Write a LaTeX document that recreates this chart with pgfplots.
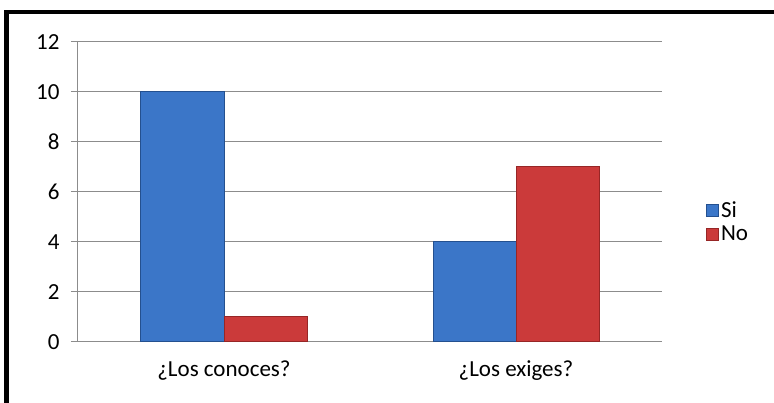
\documentclass[border=0pt]{standalone}
\usepackage{pgfplots}
\pgfplotsset{compat=1.18}
\usepackage{fontspec}
\setmainfont{Carlito}
\definecolor{gridc}{HTML}{8C8C8C}
\definecolor{bluedk}{HTML}{24508F}
\definecolor{bluemd}{HTML}{3B76C8}
\definecolor{reddk}{HTML}{962626}
\definecolor{redmd}{HTML}{CB3A3A}
\begin{document}
\begin{tikzpicture}[x=1pt,y=1pt]
\useasboundingbox (-78,-61) rectangle (696,342);
\fill[white] (-78,-61) rectangle (696,342);
\begin{axis}[
  at={(0,0)}, anchor=south west,
  scale only axis,
  width=584pt, height=300pt,
  xmin=-0.5, xmax=1.5,
  ymin=0, ymax=12,
  ytick={0,2,...,12},
  /pgf/number format/assume math mode=true,
  xtick={0,1},
  xticklabels={¿Los conoces?, ¿Los exiges?},
  extra x ticks={-0.5,0.5,1.5},
  extra x tick labels={},
  extra x tick style={major tick length=7pt, tick style={draw=gridc, line width=1pt}, grid=none},
  x tick style={draw=none},
  major tick length=7pt,
  tick align=outside,
  y tick style={draw=gridc, line width=1pt},
  axis x line*=bottom,
  axis y line*=left,
  axis line style={draw=gridc, line width=1pt, -},
  ymajorgrids,
  grid style={draw=gridc, line width=1pt},
  ybar=0pt,
  bar width=83pt,
  tick label style={font=\fontsize{23}{26}\selectfont, text=black},
  yticklabel style={xshift=-8pt},
  xticklabel style={yshift=-8pt},
  legend style={at={(1.075,0.40)}, anchor=west, draw=none, fill=none,
    font=\fontsize{23}{26}\selectfont, row sep=3pt, inner sep=0pt},
  legend cell align=left,
  legend image code/.code={\fill[#1] (0pt,-6pt) rectangle (12pt,6pt);},
]
\addplot[draw=bluedk, line width=1pt, fill=bluemd]
  coordinates {(0,10) (1,4)};
\addplot[draw=reddk, line width=1pt, fill=redmd]
  coordinates {(0,1) (1,7)};
\legend{Si, No}
\end{axis}
\draw[line width=4.5pt, line cap=rect] (-71.5,-70) -- (-71.5,330) -- (700,330);
\end{tikzpicture}
\end{document}
